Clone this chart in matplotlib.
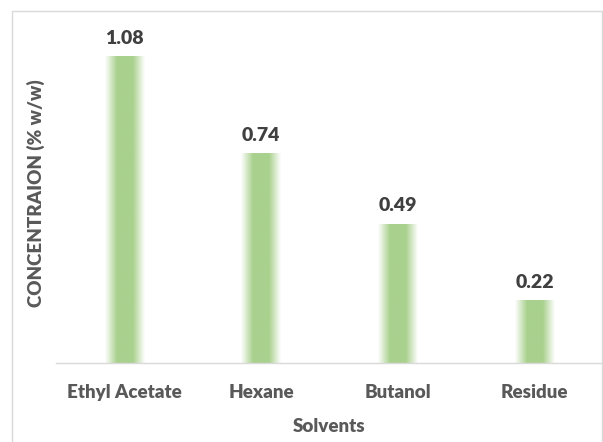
import numpy as np
import matplotlib
matplotlib.use("Agg")
import matplotlib.pyplot as plt
from matplotlib.colors import LinearSegmentedColormap
from matplotlib.patches import Rectangle

solvents = ["Ethyl Acetate", "Hexane", "Butanol", "Residue"]
concentration = [1.08, 0.74, 0.49, 0.22]

GREEN = "#a9d18e"
TEXT = "#595959"
plt.rcParams["font.family"] = ["Lato", "DejaVu Sans"]

fig = plt.figure(figsize=(6.03, 4.42), dpi=100)
ax = fig.add_axes([56 / 603, 1 - 363 / 442, 547 / 603, 340 / 442])

# chart frame (light grey outline, runs off the bottom edge)
fig.patches.append(Rectangle((11.5 / 603, -0.05), 590 / 603, 1.05 - 11.5 / 442,
                             transform=fig.transFigure, fill=False,
                             edgecolor="#d9d9d9", lw=1.0, zorder=0))

x = np.arange(len(solvents))
width = 0.29
bars = ax.bar(x, concentration, width=width, color="none", edgecolor="none")

# horizontal gradient: green in the middle, fading to white at the edges
grad_cmap = LinearSegmentedColormap.from_list(
    "fade", [(0, "#ffffff"), (0.3, GREEN), (0.7, GREEN), (1, "#ffffff")])
grad = np.linspace(0, 1, 256).reshape(1, -1)
for b in bars:
    x0, y0 = b.get_x(), b.get_y()
    ax.imshow(grad, cmap=grad_cmap, aspect="auto", interpolation="bicubic",
              extent=(x0, x0 + b.get_width(), y0, y0 + b.get_height()), zorder=2)

for xi, v in zip(x, concentration):
    ax.annotate(f"{v:.2f}", (xi, v), xytext=(0, 7), textcoords="offset points",
                ha="center", va="bottom", fontsize=14, fontweight="heavy", color="#404040")

ax.set_xlim(-0.5, len(solvents) - 0.5)
ax.set_ylim(0, 1.2)
ax.set_xticks(x)
ax.set_xticklabels(solvents, fontsize=13.5, fontweight="heavy", color=TEXT)
ax.tick_params(axis="x", length=0, pad=15)
ax.set_yticks([])
for side in ("top", "right", "left"):
    ax.spines[side].set_visible(False)
ax.spines["bottom"].set_color("#d9d9d9")
ax.spines["bottom"].set_linewidth(1.0)

ax.set_xlabel("Solvents", fontsize=13.5, fontweight="heavy", color=TEXT, labelpad=12)
ax.set_ylabel("CONCENTRAION (% w/w)", fontsize=13.5, fontweight="heavy", color=TEXT, labelpad=8)

fig.savefig("out.png", dpi=100)
